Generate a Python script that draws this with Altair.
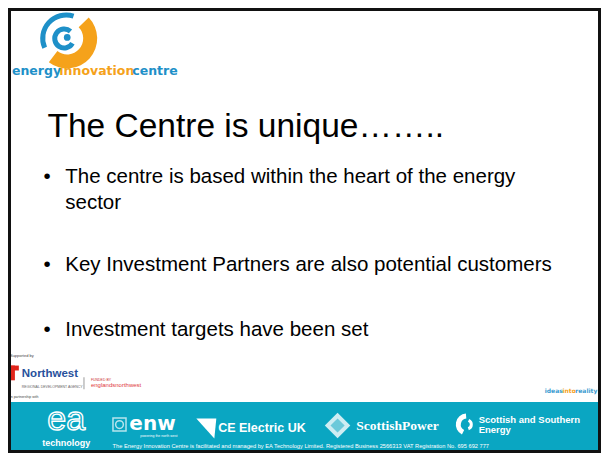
import altair as alt
import pandas as pd

# ---- slide content -------------------------------------------------------
TITLE = "The Centre is unique…….."
BULLETS = [
    "The centre is based within the heart of the energy",
    "sector",
    "Key Investment Partners are also potential customers",
    "Investment targets have been set",
]
LOGO_WORDS = ["energy", "innovation", "centre"]
TAGLINE = ["ideas", "into", "reality"]
REGION = ["Supported by", "Northwest", "REGIONAL DEVELOPMENT AGENCY",
          "FUNDED BY", "englandsnorthwest", "in partnership with"]
SPONSORS = ["ea", "technology", "enw", "CE Electric UK", "ScottishPower",
            "Scottish and Southern", "Energy"]
ENW_SUB = "powering the north west"
FOOTER = ("The Energy Innovation Centre is facilitated and managed by EA Technology Limited.  "
          "Registered Business 2566313   VAT Registration No. 695 692 777")

TEAL = "#0aa6c2"
BLUE = "#1e90c8"
ORANGE = "#f5a21b"
NW_BLUE = "#28519c"
RED = "#e1251b"

W, H = 593, 445
XS = alt.Scale(domain=[4, 605], nice=False, zero=False)
YS = alt.Scale(domain=[4, 457], nice=False, zero=False, reverse=True)


def X():
    return alt.X("x:Q", scale=XS, axis=None)


def Y():
    return alt.Y("y:Q", scale=YS, axis=None)


def rect(x, x2, y, y2, **mk):
    df = pd.DataFrame({"x": [x], "x2": [x2], "y": [y], "y2": [y2]})
    return alt.Chart(df).mark_rect(**mk).encode(x=X(), x2="x2:Q", y=Y(), y2="y2:Q")


def txt(s, x, y, size, color="black", font="Liberation Sans", weight="normal",
        align="left", baseline="alphabetic", **mk):
    df = pd.DataFrame({"x": [x], "y": [y], "t": [s]})
    return alt.Chart(df).mark_text(
        align=align, baseline=baseline, fontSize=size, font=font,
        fontWeight=weight, color=color, **mk
    ).encode(x=X(), y=Y(), text="t:N")


def arc(cx, cy, r1, r2, t1, t2, color):
    df = pd.DataFrame({"x": [cx], "y": [cy]})
    return alt.Chart(df).mark_arc(
        radius=r1, radius2=r2, theta=t1, theta2=t2, color=color
    ).encode(x=X(), y=Y())


def pt(x, y, shape, size, **mk):
    df = pd.DataFrame({"x": [x], "y": [y]})
    return alt.Chart(df).mark_point(shape=shape, size=size, **mk).encode(x=X(), y=Y())


layers = []

# banner
layers.append(rect(4, 605, 405, 457, color=TEAL))

# logo swirl
layers.append(arc(64, 35, 30, 16, 0.8, 3.8, ORANGE))
layers.append(arc(63, 35, 26, 21, 4.3, 6.6, BLUE))
layers.append(arc(61, 35, 12, 7, 2.1, 7.0, BLUE))
layers.append(pt(64, 34, "circle", 45, filled=True, color=BLUE, opacity=1))

# logo words
layers.append(txt(LOGO_WORDS[0], 8, 72, 12.5, BLUE, "DejaVu Sans", "bold"))
layers.append(txt(LOGO_WORDS[1], 56, 72, 12.5, ORANGE, "DejaVu Sans", "bold"))
layers.append(txt(LOGO_WORDS[2], 130, 72, 12.5, BLUE, "DejaVu Sans", "bold"))

# title and bullets
layers.append(txt(TITLE, 44, 135, 33.5))
bullet_y = [182, 272, 338]
for by in bullet_y:
    layers.append(txt("•", 40, by, 20.5))
layers.append(txt(BULLETS[0], 62, 182, 20.5))
layers.append(txt(BULLETS[1], 62, 209, 20.5))
layers.append(txt(BULLETS[2], 62, 272, 20.5))
layers.append(txt(BULLETS[3], 62, 338, 20.5))

# supported-by strip
layers.append(txt(REGION[0], 6, 359, 4, "#444"))
layers.append(rect(7, 15, 368, 373, color=RED))
layers.append(rect(7, 11, 368, 383, color=RED))
layers.append(txt(REGION[1], 18, 380, 11.5, NW_BLUE, weight="bold"))
layers.append(txt(REGION[2], 18, 391, 3.5, "#666"))
layers.append(rect(80.5, 81.5, 380, 392, color="#999"))
layers.append(txt(REGION[3], 88, 384, 3.5, "#c33"))
layers.append(txt(REGION[4], 88, 390, 6, "#e0383e"))
layers.append(txt(REGION[5], 6, 401, 3.5, "#444"))
layers.append(txt(TAGLINE[0], 548, 396, 6, "#3a9bd0", "DejaVu Sans", "bold"))
layers.append(txt(TAGLINE[1], 566, 396, 6, ORANGE, "DejaVu Sans", "bold"))
layers.append(txt(TAGLINE[2], 579, 396, 6, "#3a9bd0", "DejaVu Sans", "bold"))

# sponsor logos in banner
layers.append(txt(SPONSORS[0], 63, 434, 34, TEAL, align="center",
                  stroke="white", strokeWidth=1.4))
layers.append(txt(SPONSORS[1], 63, 450, 9, "white", weight="bold", align="center"))
layers.append(pt(117, 428, "square", 170, filled=False, color="white", strokeWidth=1.5))
layers.append(pt(117, 428, "circle", 60, filled=False, color="white", strokeWidth=1.5))
layers.append(txt(SPONSORS[2], 127, 434, 20, "white", "DejaVu Sans", "bold"))
layers.append(txt(ENW_SUB, 138, 441, 3.5, "white"))
layers.append(pt(205, 432, "M -1 -1 L 1 -1 L 0.8 1 Z", 400, filled=True,
                 color="white", opacity=1))
layers.append(txt(SPONSORS[3], 217, 436, 12.5, "white", weight="bold"))
layers.append(pt(338, 429, "M 0 -1 L 1 0 L 0 1 L -1 0 Z", 650, filled=True,
                 color="white", opacity=0.8))
layers.append(pt(338, 429, "M 0 -1 L 1 0 L 0 1 L -1 0 Z", 200, filled=True,
                 color=TEAL, opacity=0.5))
layers.append(txt(SPONSORS[4], 357, 434, 13.5, "white", "Liberation Serif", "bold"))
layers.append(arc(469, 428, 11, 6, 3.6, 6.2, "white"))
layers.append(arc(469, 428, 6, 3, 0.4, 2.8, "white"))
layers.append(txt(SPONSORS[5], 481, 426, 9.5, "white", "Liberation Sans", "bold"))
layers.append(txt(SPONSORS[6], 481, 437, 9.5, "white", "Liberation Sans", "bold"))
layers.append(txt(FOOTER, 110, 451.5, 5.7, "white"))

# slide border
layers.append(rect(4, 605, 4, 457, filled=False, stroke="#111", strokeWidth=6))

chart = alt.layer(*layers).properties(
    width=W, height=H, padding=0, autosize="none", background="white"
).configure_view(strokeWidth=0)

chart.save("out.html", embed_options={"renderer": "svg", "actions": False})
